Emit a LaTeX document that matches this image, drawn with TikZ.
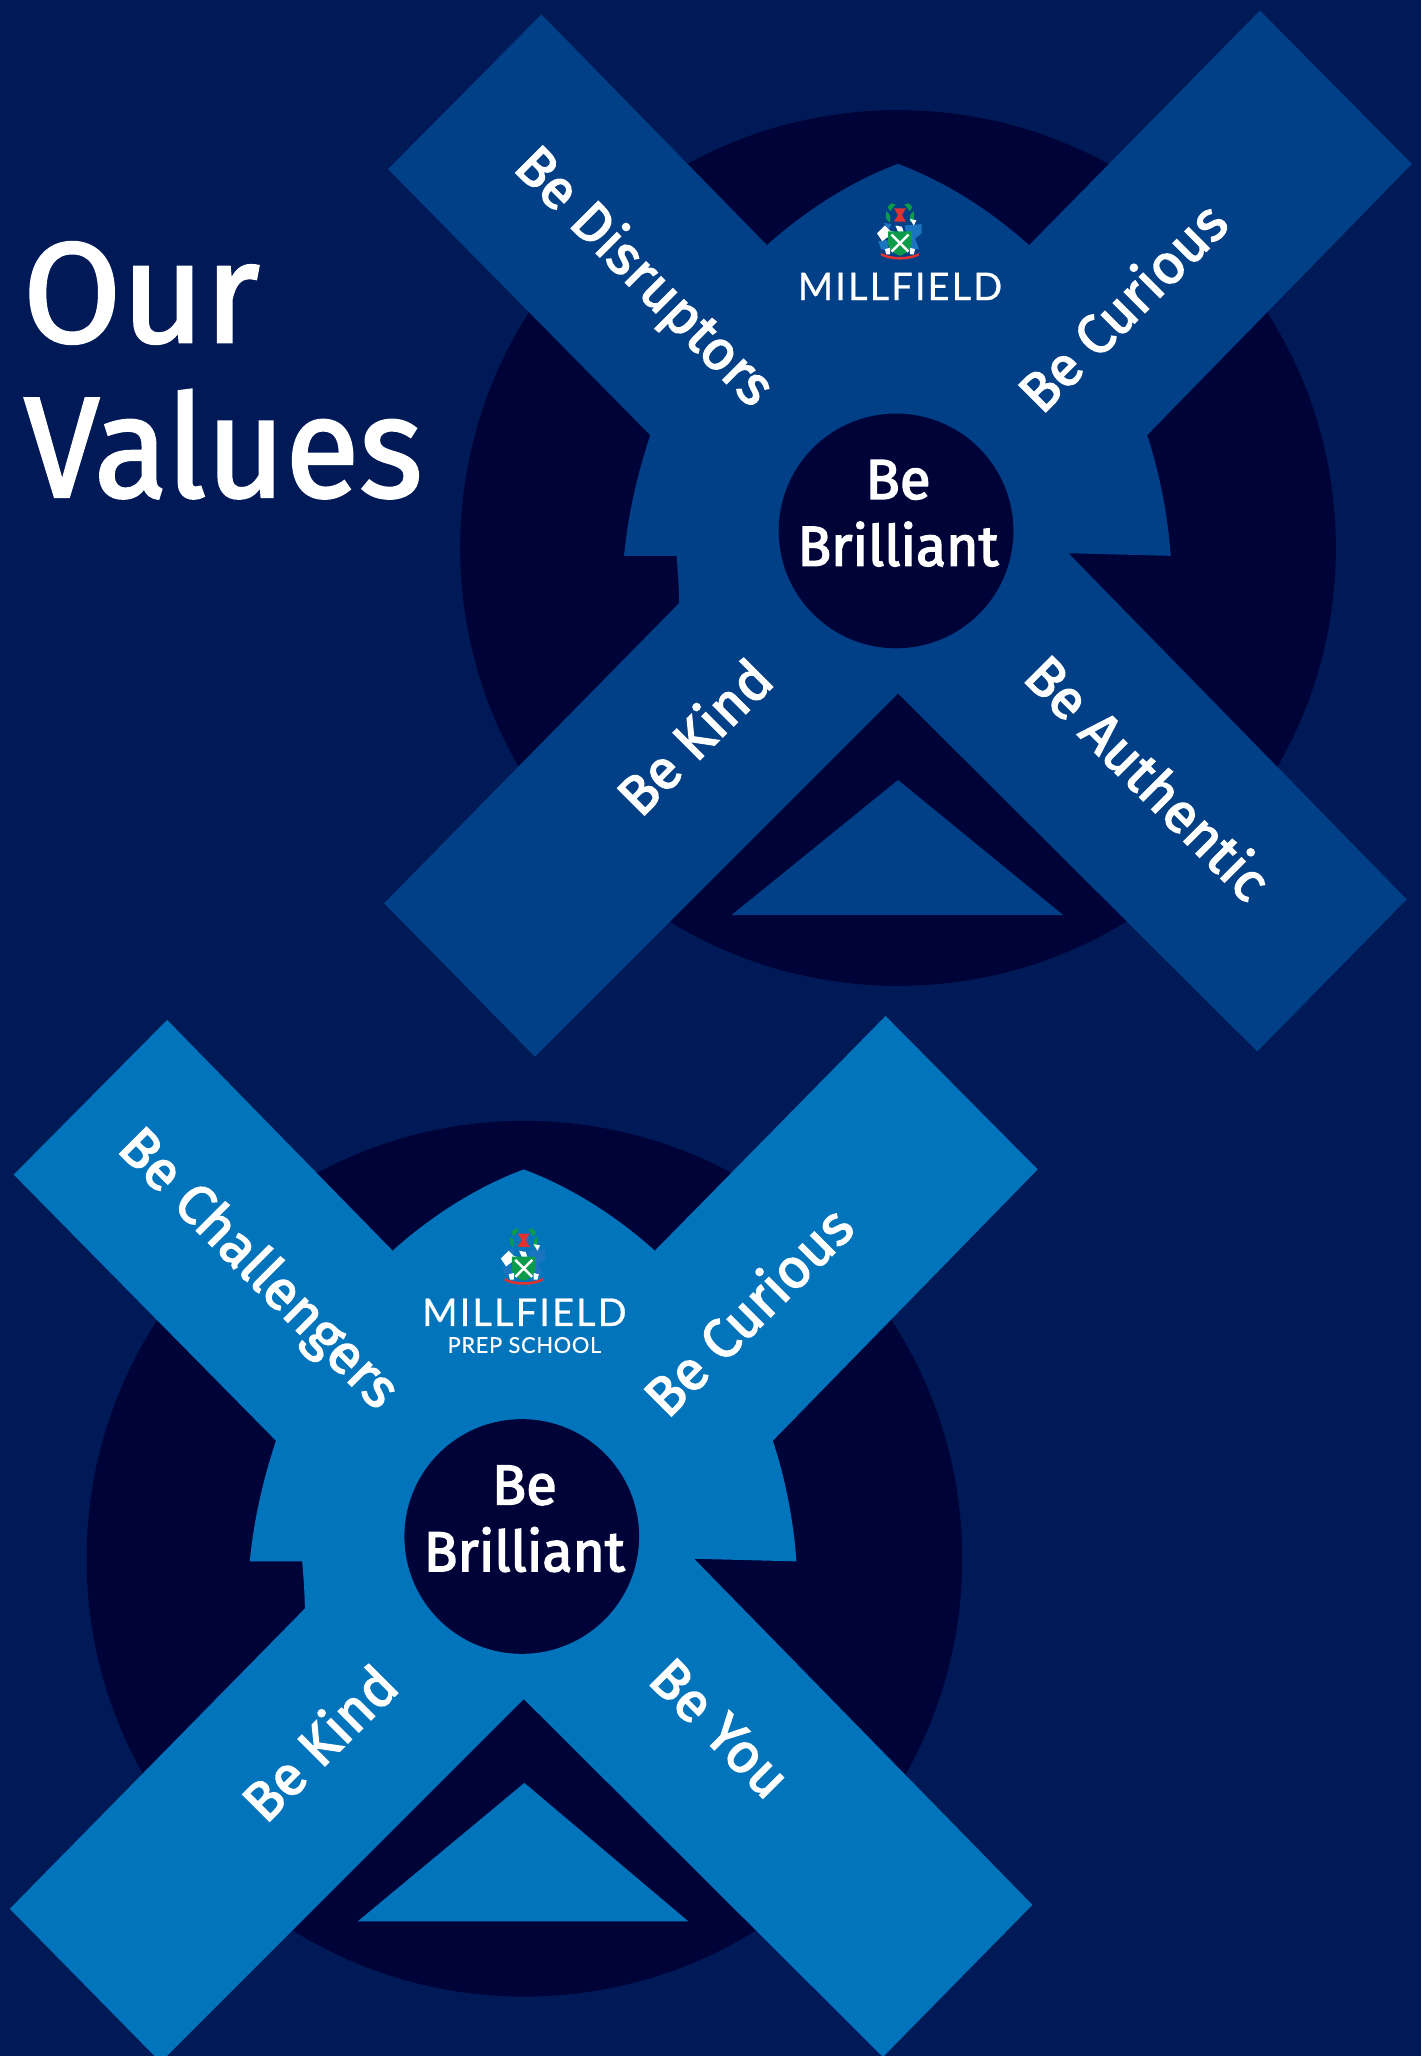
\documentclass[tikz,border=0pt]{standalone}
\usepackage{fontspec}
\setmainfont{Fira Sans}
\newfontfamily\medfont[FakeBold=2.6]{Fira Sans}
\newfontfamily\titlefont[FakeBold=1.8]{Fira Sans}
\newfontfamily\logofont[LetterSpace=5.5,FakeBold=0.6]{Lato}
\newfontfamily\subfont[LetterSpace=3,FakeBold=0.4]{Lato}
\definecolor{bgblue}{HTML}{001A57}
\definecolor{darknavy}{HTML}{000337}
\definecolor{armnavy}{HTML}{013F87}
\definecolor{armsky}{HTML}{0274BC}
\definecolor{crestgreen}{HTML}{0C9B4A}
\definecolor{crestred}{HTML}{E0332F}
\definecolor{crestblue}{HTML}{1B74C0}
\tikzset{
  armlabel/.style={text=white,font=\medfont\fontsize{24}{24}\selectfont,inner sep=0pt,anchor=center},
  centrelabel/.style={text=white,font=\medfont\fontsize{24.5}{24.5}\selectfont,inner sep=0pt,anchor=center},
  titlelabel/.style={text=white,font=\titlefont\fontsize{62}{62}\selectfont,inner sep=0pt,anchor=base west},
  logolabel/.style={text=white,font=\logofont\fontsize{16.5}{16.5}\selectfont,inner sep=0pt,anchor=center},
  sublabel/.style={text=white,font=\subfont\fontsize{9.5}{9.5}\selectfont,inner sep=0pt,anchor=center},
}
\newcommand{\crossshape}[1]{%
  \fill[#1] (685,125) .. controls (720,138) and (755,160) .. (785,187)
    -- (961,8) -- (1077,125) -- (875,332)
    .. controls (885,362) and (891,395) .. (893,424)
    -- (815,422) -- (1073,686) -- (959,802) -- (685,529) -- (408,806) -- (293,689)
    -- (518,460) .. controls (518,448) and (517,436) .. (516,424) -- (476,424)
    .. controls (479,393) and (486,362) .. (496,332)
    -- (296,129) -- (413,11) -- (585,187)
    .. controls (615,160) and (650,138) .. (685,125) -- cycle;
  \fill[darknavy] (683.5,405) circle[radius=89.5];
}
\newcommand{\crest}{%
  % wreath
  \fill[crestgreen] (680,155) -- (683,156) -- (679,161) -- (677,158) -- cycle;
  \fill[crestgreen] (693,155) -- (690,156) -- (694,161) -- (696,158) -- cycle;
  \fill[crestgreen] (676,161) -- (679,164) -- (679,170) -- (676,167) -- cycle;
  \fill[crestgreen] (697,161) -- (694,164) -- (694,170) -- (697,167) -- cycle;
  % windmill
  \fill[crestred] (682,159) -- (691,159) -- (688,164) -- (691,169) -- (682,169) -- (685,164) -- cycle;
  % supporters
  \fill[crestblue] (690,172) -- (703,171) -- (703,178) -- (698,182) -- (701,190) -- (694,190) -- cycle;
  \fill[crestblue] (670,184) -- (677,183) -- (678,191) -- (672,190) -- cycle;
  \fill[crestblue] (674,170) -- (680,171) -- (678,175) -- cycle;
  \fill[white] (669,178) -- (675,172) -- (679,176) -- (686,178) -- (683,181) -- (677,181) -- (673,184) -- cycle;
  \fill[white] (683,172) -- (688,173) -- (690,179) -- (686,179) -- cycle;
  \fill[white] (694,167) -- (699,168) -- (697,172) -- cycle;
  % shield
  \fill[crestgreen] (677.5,176.5) -- (695.5,176.5) -- (695.5,186) .. controls (695.5,191) and (690,194) .. (686.5,195) .. controls (683,194) and (677.5,191) .. (677.5,186) -- cycle;
  \draw[white,line width=1.1pt] (680,179) -- (693,192) (693,179) -- (680,192);
  \fill[white] (675,190) -- (679,189) -- (679,194) -- (676,194) -- cycle;
  \fill[white] (694,189) -- (698,190) -- (697,194) -- (694,194) -- cycle;
  % ribbon
  \fill[crestred] (672,193) .. controls (680,197) and (693,197) .. (701,193) -- (701,195)
    .. controls (693,199) and (680,199) .. (672,195) -- cycle;
}
\begin{document}
\begin{tikzpicture}[x=0.02cm,y=-0.02cm]
\useasboundingbox (0,0) rectangle (1084,1568.3);
\fill[bgblue] (0,0) rectangle (1084,1568.3);
\clip (0,0) rectangle (1084,1568.3);

% Upper figure
\fill[darknavy] (685,418) circle[radius=334];
\crossshape{armnavy}
\fill[armnavy] (685,595) -- (811,698) -- (558,698) -- cycle;
\begin{scope}\crest\end{scope}
\node[titlelabel] (titleA) at (17,261) {Our};
\node[titlelabel,xscale=0.95] (titleB) at (18,379) {Values};
\node[logolabel] (logoA) at (686.5,218.5) {MILLFIELD};
\node[centrelabel] (beA) at (685,366) {Be};
\node[centrelabel,xscale=0.98] (brA) at (685,415) {Brilliant};
\node[armlabel,rotate=-45] (a1) at (490.5,212) {Be Disruptors};
\node[armlabel,rotate=45] (a2) at (855.5,233.5) {Be Curious};
\node[armlabel,rotate=45] (a3) at (529,561.5) {Be Kind};
\node[armlabel,rotate=-45] (a4) at (876.5,592.5) {Be Authentic};

% Lower figure
\fill[darknavy] (400,1189) circle[radius=334];
\begin{scope}[shift={(-285.5,767)}]
  \crossshape{armsky}
\end{scope}
\fill[armsky] (400,1360) -- (525,1465.5) -- (273,1465.5) -- cycle;
\begin{scope}[shift={(-287,782)}]\crest\end{scope}
\node[logolabel] (logoB) at (400,1001) {MILLFIELD};
\node[sublabel] (logoC) at (400,1026) {PREP SCHOOL};
\node[centrelabel] (beB) at (400,1133) {Be};
\node[centrelabel,xscale=0.98] (brB) at (400,1182) {Brilliant};
\node[armlabel,rotate=-45] (b1) at (196,969) {Be Challengers};
\node[armlabel,rotate=45] (b2) at (570,999.5) {Be Curious};
\node[armlabel,rotate=45] (b3) at (243,1329) {Be Kind};
\node[armlabel,rotate=-45] (b4) at (549,1318.5) {Be You};
\end{tikzpicture}
\end{document}
